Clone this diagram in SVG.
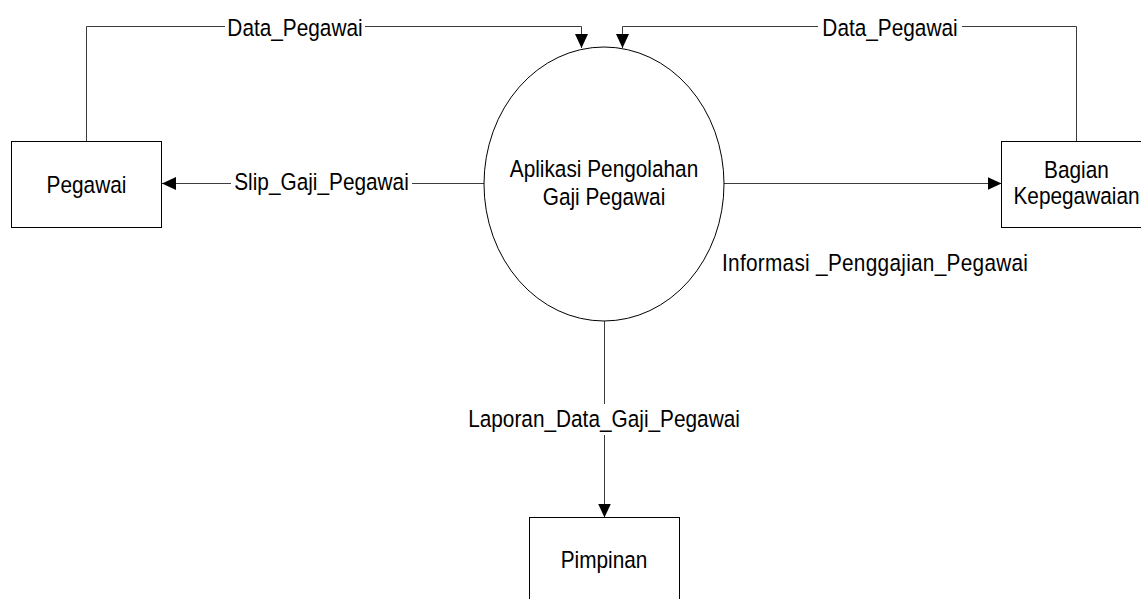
<svg xmlns="http://www.w3.org/2000/svg" width="1141" height="599" viewBox="0 0 1141 599">
<defs>
<marker id="arr" markerUnits="userSpaceOnUse" markerWidth="15" markerHeight="13" refX="14" refY="6.5" orient="auto">
<path d="M0,0 L14,6.5 L0,13 Z" fill="#000"/>
</marker>
<style>
.box{fill:#fff;stroke:#000;stroke-width:1}
.proc{fill:#fff;stroke:#000;stroke-width:1}
.ln{fill:none;stroke:#3c3c3c;stroke-width:1}
.t{font-family:"Liberation Sans",Arial,sans-serif;font-size:20.8px;fill:#000}
.c{text-anchor:middle}
</style>
</defs>
<rect width="1141" height="599" fill="#fff"/>
<g id="connectors">
<path class="ln" d="M86.5,141 V26.5 H225"/>
<path class="ln" d="M365,26.5 H581.5 V48" marker-end="url(#arr)"/>
<path class="ln" d="M1076.5,141 V26.5 H962"/>
<path class="ln" d="M818,26.5 H622.5 V48" marker-end="url(#arr)"/>
<path class="ln" d="M484,183.5 H412"/>
<path class="ln" d="M231,183.5 H162" marker-end="url(#arr)"/>
<path class="ln" d="M724,183.5 H1001.5" marker-end="url(#arr)"/>
<path class="ln" d="M604.5,321 V404"/>
<path class="ln" d="M604.5,435 V517.5" marker-end="url(#arr)"/>
<text class="t c" transform="matrix(1,0,0,1.13,295,35.5)">Data_Pegawai</text>
<text class="t c" transform="matrix(1,0,0,1.13,890,35.5)">Data_Pegawai</text>
<text class="t c" transform="matrix(1,0,0,1.13,321.5,190)">Slip_Gaji_Pegawai</text>
<text class="t" transform="matrix(1,0,0,1.13,722,270.5)" textLength="306">Informasi _Penggajian_Pegawai</text>
<text class="t c" transform="matrix(1,0,0,1.13,604,426.7)">Laporan_Data_Gaji_Pegawai</text>
</g>
<g id="node-pegawai">
<rect class="box" x="11.5" y="141.5" width="150" height="86"/>
<text class="t c" transform="matrix(1,0,0,1.13,86.5,192.5)">Pegawai</text>
</g>
<g id="node-aplikasi">
<ellipse class="proc" cx="604" cy="184" rx="120" ry="137"/>
<text class="t c" transform="matrix(1,0,0,1.13,604,177.3)">Aplikasi Pengolahan</text>
<text class="t c" transform="matrix(1,0,0,1.13,604,205)">Gaji Pegawai</text>
</g>
<g id="node-bagian">
<rect class="box" x="1001.5" y="141.5" width="150" height="86"/>
<text class="t c" transform="matrix(1,0,0,1.13,1076.5,178)">Bagian</text>
<text class="t c" transform="matrix(1,0,0,1.13,1076.5,204)">Kepegawaian</text>
</g>
<g id="node-pimpinan">
<rect class="box" x="529.5" y="517.5" width="150" height="86"/>
<text class="t c" transform="matrix(1,0,0,1.13,604,568.3)">Pimpinan</text>
</g>
</svg>
